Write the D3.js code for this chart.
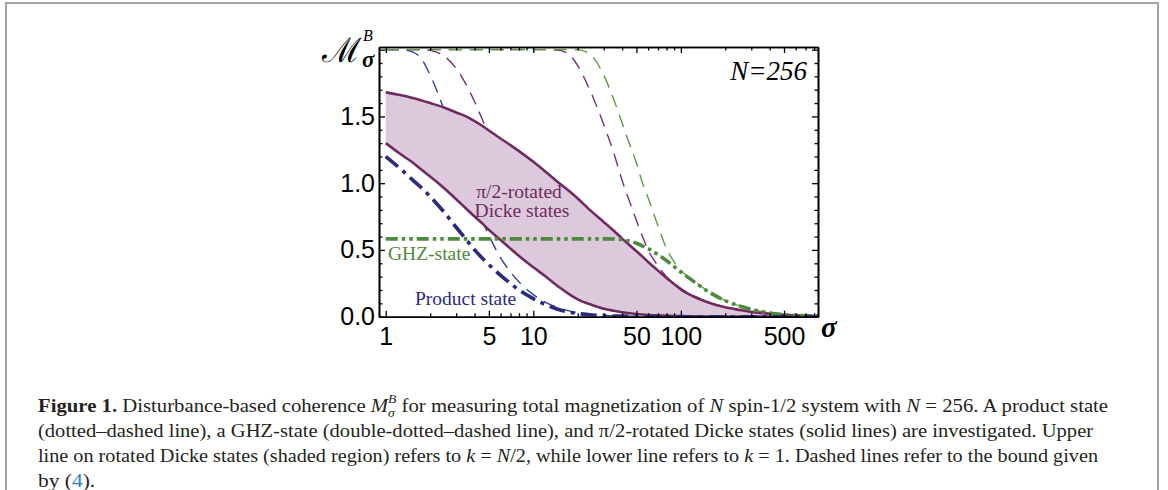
<!DOCTYPE html>
<html>
<head>
<meta charset="utf-8">
<script src="https://cdn.jsdelivr.net/npm/d3@7"></script>
<style>
  html, body { margin: 0; padding: 0; background: #fff; }
  svg { display: block; }
</style>
</head>
<body>
<svg id="fig" width="1168" height="490"></svg>
<script>
// sigma grid shared by every curve
const sigma = [1, 1.25, 1.5, 1.75, 2, 2.5, 3, 3.5, 4, 4.5, 5, 6, 7, 8, 10, 12, 15, 18, 20, 25,
               30, 35, 40, 45, 50, 55, 60, 70, 80, 90, 100, 120, 150, 200, 250, 300, 400, 500, 650, 850];

// pi/2-rotated Dicke state, k = N/2 (upper edge of shaded region)
const dickeHalf = [1.68, 1.66, 1.64, 1.62, 1.60, 1.565, 1.53, 1.50, 1.465, 1.43, 1.395, 1.335, 1.285, 1.24, 1.16, 1.09, 1.0, 0.93, 0.885, 0.785,
                   0.71, 0.645, 0.585, 0.535, 0.49, 0.45, 0.41, 0.345, 0.29, 0.245, 0.205, 0.155, 0.11, 0.07, 0.05, 0.036, 0.021, 0.014, 0.008, 0.005];
// pi/2-rotated Dicke state, k = 1 (lower edge of shaded region)
const dickeOne = [1.30, 1.22, 1.16, 1.10, 1.05, 0.96, 0.88, 0.81, 0.75, 0.70, 0.65, 0.575, 0.51, 0.455, 0.37, 0.305, 0.22, 0.16, 0.13, 0.088,
                  0.06, 0.045, 0.034, 0.026, 0.02, 0.016, 0.013, 0.009, 0.007, 0.005, 0.004, 0.003, 0.002, 0.001, 0.001, 0.0005, 0, 0, 0, 0];
// product state
const productState = [1.20, 1.11, 1.03, 0.965, 0.90, 0.78, 0.67, 0.58, 0.50, 0.44, 0.39, 0.31, 0.25, 0.20, 0.135, 0.092, 0.052, 0.032, 0.024, 0.013,
                      0.008, 0.005, 0.004, 0.003, 0.002, 0.0015, 0.001, 0.001, 0.0005, 0, 0, 0, 0, 0, 0, 0, 0, 0, 0, 0];
// GHZ state
const ghzState = [0.583, 0.583, 0.583, 0.583, 0.583, 0.583, 0.583, 0.583, 0.583, 0.583, 0.583, 0.583, 0.583, 0.583, 0.583, 0.583, 0.583, 0.583, 0.583, 0.583,
                  0.583, 0.582, 0.578, 0.567, 0.55, 0.53, 0.51, 0.465, 0.42, 0.375, 0.335, 0.27, 0.195, 0.12, 0.08, 0.055, 0.028, 0.016, 0.008, 0.004];

// bounds from (4), dashed
const boundProduct = [2.0, 2.0, 1.985, 1.93, 1.81, 1.54, 1.27, 1.05, 0.87, 0.72, 0.61, 0.44, 0.335, 0.26, 0.165, 0.11, 0.066, 0.04, 0.03, 0.017,
                      0.01, 0.007, 0.005, 0.004, 0.003, 0.002, 0.0015, 0.001, 0.0005, 0, 0, 0, 0, 0, 0, 0, 0, 0, 0, 0];
const boundDickeOne = [2.0, 2.0, 2.0, 2.0, 1.995, 1.95, 1.86, 1.74, 1.61, 1.48, 1.36, 1.14, 0.95, 0.80, 0.58, 0.43, 0.28, 0.19, 0.155, 0.10,
                       0.068, 0.05, 0.037, 0.028, 0.021, 0.017, 0.014, 0.01, 0.007, 0.005, 0.004, 0.003, 0.002, 0.001, 0.001, 0.0005, 0, 0, 0, 0];
const boundDickeHalf = [2.0, 2.0, 2.0, 2.0, 2.0, 2.0, 2.0, 2.0, 2.0, 2.0, 2.0, 2.0, 2.0, 2.0, 2.0, 2.0, 1.995, 1.95, 1.88, 1.66,
                        1.44, 1.23, 1.02, 0.86, 0.72, 0.60, 0.50, 0.38, 0.30, 0.25, 0.212, 0.16, 0.113, 0.072, 0.051, 0.037, 0.022, 0.014, 0.008, 0.005];
const boundGhz = [2.0, 2.0, 2.0, 2.0, 2.0, 2.0, 2.0, 2.0, 2.0, 2.0, 2.0, 2.0, 2.0, 2.0, 2.0, 2.0, 2.0, 2.0, 2.0, 1.95,
                  1.81, 1.63, 1.45, 1.29, 1.15, 1.0, 0.89, 0.68, 0.51, 0.41, 0.345, 0.275, 0.198, 0.121, 0.081, 0.056, 0.029, 0.017, 0.009, 0.005];

// axis ticks
const xTickValues = [1, 5, 10, 50, 100, 500];
const xTickLabels = ["1", "5", "10", "50", "100", "500"];
const yTickValues = [0, 0.5, 1.0, 1.5, 2.0];
const yTickLabels = ["0.0", "0.5", "1.0", "1.5", ""];

// colours
const purple = "#702a60", purpleDash = "#7c2f70", fillCol = "#dccadc";
const navy = "#2a2a7e", navyDash = "#34419a";
const green = "#4e8a3b", greenDash = "#5e9a3e";

const svg = d3.select("#fig");

// outer figure box
svg.append("path")
  .attr("d", "M6,520 L6,3 L1158,3 L1158,520")
  .attr("fill", "none").attr("stroke", "#a3a3a3").attr("stroke-width", 2);

const L = 379, R = 818, T = 47, B = 316.7;
const x = d3.scaleLog().domain([0.9, 850]).range([L, R]);
const y = d3.scaleLinear().domain([0, 2.02]).range([B, T]);

const plot = svg.append("g");
svg.append("clipPath").attr("id", "clip")
  .append("rect").attr("x", L).attr("y", T).attr("width", R - L).attr("height", B - T);
const inner = plot.append("g").attr("clip-path", "url(#clip)");

const pts = vals => sigma.map((s, i) => [s, vals[i]]);
const line = d3.line().x(d => x(d[0])).y(d => y(d[1])).curve(d3.curveMonotoneX);

// dashed bounds (drawn first, the shaded band covers them)
const bounds = [
  [boundDickeOne, purpleDash],
  [boundDickeHalf, purpleDash],
  [boundProduct, navyDash],
  [boundGhz, greenDash]
];
bounds.forEach(([vals, col]) => {
  inner.append("path").attr("d", line(pts(vals)))
    .attr("fill", "none").attr("stroke", col).attr("stroke-width", 1.4)
    .attr("stroke-dasharray", "13,8");
});

// shaded region between k = 1 and k = N/2
const area = d3.area()
  .x((d, i) => x(sigma[i]))
  .y0((d, i) => y(dickeOne[i]))
  .y1((d, i) => y(dickeHalf[i]))
  .curve(d3.curveMonotoneX);
inner.append("path").attr("d", area(sigma)).attr("fill", fillCol);

// solid Dicke lines
[dickeHalf, dickeOne].forEach(vals => {
  inner.append("path").attr("d", line(pts(vals)))
    .attr("fill", "none").attr("stroke", purple).attr("stroke-width", 2.6);
});

// GHZ state, double-dotted-dashed
inner.append("path").attr("d", line(pts(ghzState)))
  .attr("fill", "none").attr("stroke", green).attr("stroke-width", 3.6)
  .attr("stroke-dasharray", "12,4,3.5,4,3.5,4");

// product state, dotted-dashed
inner.append("path").attr("d", line(pts(productState)))
  .attr("fill", "none").attr("stroke", navy).attr("stroke-width", 3.6)
  .attr("stroke-dasharray", "16,6,4,6");

// frame with inward ticks on all four sides
const xMinor = x.ticks().filter(v => !xTickValues.includes(v) && v >= 0.9 && v <= 850);
const yMinor = d3.range(0, 21).map(i => i / 10).filter(v => !yTickValues.some(t => Math.abs(t - v) < 1e-9));
const fmtX = v => xTickLabels[xTickValues.indexOf(v)];
const fmtY = v => yTickLabels[yTickValues.findIndex(t => Math.abs(t - v) < 1e-9)];

function styleAxis(g) {
  g.attr("font-family", "'Liberation Sans', Arial, sans-serif").attr("font-size", 25);
  g.selectAll("path.domain").attr("stroke", "#000").attr("stroke-width", 1.6);
  g.selectAll(".tick line").attr("stroke", "#000").attr("stroke-width", 1.3);
  g.selectAll(".tick text").attr("fill", "#000");
}

plot.append("g").attr("transform", `translate(0,${B})`)
  .call(d3.axisBottom(x).tickValues(xTickValues).tickFormat(fmtX).tickSize(-6).tickSizeOuter(0).tickPadding(10.5))
  .call(styleAxis);
plot.append("g").attr("transform", `translate(0,${B})`)
  .call(d3.axisBottom(x).tickValues(xMinor).tickFormat("").tickSize(-3.5).tickSizeOuter(0))
  .call(styleAxis);
plot.append("g").attr("transform", `translate(0,${T})`)
  .call(d3.axisTop(x).tickValues(xTickValues).tickFormat("").tickSize(-6).tickSizeOuter(0))
  .call(styleAxis);
plot.append("g").attr("transform", `translate(0,${T})`)
  .call(d3.axisTop(x).tickValues(xMinor).tickFormat("").tickSize(-3.5).tickSizeOuter(0))
  .call(styleAxis);
plot.append("g").attr("transform", `translate(${L},0)`)
  .call(d3.axisLeft(y).tickValues(yTickValues).tickFormat(fmtY).tickSize(-6).tickSizeOuter(0).tickPadding(4))
  .call(styleAxis);
plot.append("g").attr("transform", `translate(${L},0)`)
  .call(d3.axisLeft(y).tickValues(yMinor).tickFormat("").tickSize(-3.5).tickSizeOuter(0))
  .call(styleAxis);
plot.append("g").attr("transform", `translate(${R},0)`)
  .call(d3.axisRight(y).tickValues(yTickValues).tickFormat("").tickSize(-6).tickSizeOuter(0))
  .call(styleAxis);
plot.append("g").attr("transform", `translate(${R},0)`)
  .call(d3.axisRight(y).tickValues(yMinor).tickFormat("").tickSize(-3.5).tickSizeOuter(0))
  .call(styleAxis);

// axis titles
const serif = "'Liberation Serif', 'Times New Roman', serif";
const scriptM = svg.append("text").attr("y", 62)
  .attr("font-family", "'DejaVu Serif', serif").attr("font-size", 34).text("\u2133");
scriptM.attr("x", 361 - scriptM.node().getComputedTextLength());
svg.append("text").attr("x", 363).attr("y", 41)
  .attr("font-family", serif).attr("font-style", "italic").attr("font-size", 16).text("B");
svg.append("text").attr("x", 362).attr("y", 67)
  .attr("font-family", serif).attr("font-style", "italic").attr("font-weight", "bold").attr("font-size", 23).text("\u03c3");
svg.append("text").attr("x", 821).attr("y", 337)
  .attr("font-family", serif).attr("font-style", "italic").attr("font-weight", "bold").attr("font-size", 29).text("\u03c3");

// N = 256 label
svg.append("text").attr("x", 807).attr("y", 80).attr("text-anchor", "end")
  .attr("font-family", serif).attr("font-style", "italic").attr("font-size", 27).text("N=256");

// curve labels
const labels = [
  { t: "\u03c0/2-rotated", x: 519, y: 198, c: purple, a: "middle" },
  { t: "Dicke states", x: 522, y: 217, c: purple, a: "middle" },
  { t: "GHZ-state", x: 388, y: 260, c: green, a: "start" },
  { t: "Product state", x: 415, y: 305, c: navy, a: "start" }
];
svg.selectAll("text.lbl").data(labels).join("text").attr("class", "lbl")
  .attr("x", d => d.x).attr("y", d => d.y).attr("text-anchor", d => d.a)
  .attr("fill", d => d.c).attr("font-family", serif).attr("font-size", 19.5)
  .text(d => d.t);

// caption: each line is laid out run by run, then stretched to its measure
const cap = svg.append("g").attr("font-family", serif).attr("fill", "#231f20");
const capSize = 19.8;
const capX = 38;
function richLine(yb, runs, right) {
  const g = cap.append("g");
  let cx = capX, held = 0;
  runs.forEach(r => {
    const t = g.append("text").attr("x", cx).attr("y", yb + (r.dy || 0))
      .attr("font-size", r.size || capSize)
      .attr("font-style", r.i ? "italic" : null)
      .attr("font-weight", r.b ? "bold" : null)
      .attr("fill", r.c || null)
      .attr("xml:space", "preserve")
      .text(r.t);
    const w = t.node().getComputedTextLength();
    if (r.hold) { held = w; }
    else { cx += Math.max(w, held); held = 0; }
  });
  const s = right ? (right - capX) / (cx - capX) : 1.085;
  g.attr("transform", `translate(${capX},0) scale(${s},1) translate(${-capX},0)`);
}
richLine(412, [
  { t: "Figure 1.", b: true },
  { t: " Disturbance-based coherence " },
  { t: "M", i: true },
  { t: "B", i: true, size: 13, dy: -9, hold: true },
  { t: "\u03c3", i: true, size: 13, dy: 5 },
  { t: " for measuring total magnetization of " },
  { t: "N", i: true },
  { t: " spin-1/2 system with " },
  { t: "N", i: true },
  { t: " = 256. A product state" }
], 1108);
richLine(437, [
  { t: "(dotted\u2013dashed line), a GHZ-state (double-dotted\u2013dashed line), and " },
  { t: "\u03c0" },
  { t: "/2-rotated Dicke states (solid lines) are investigated. Upper" }
], 1093);
richLine(462, [
  { t: "line on rotated Dicke states (shaded region) refers to " },
  { t: "k", i: true },
  { t: " = " },
  { t: "N", i: true },
  { t: "/2, while lower line refers to " },
  { t: "k", i: true },
  { t: " = 1. Dashed lines refer to the bound given" }
], 1098);
richLine(487, [
  { t: "by (" },
  { t: "4", c: "#2a7fc0" },
  { t: ")." }
], null);
</script>
</body>
</html>
